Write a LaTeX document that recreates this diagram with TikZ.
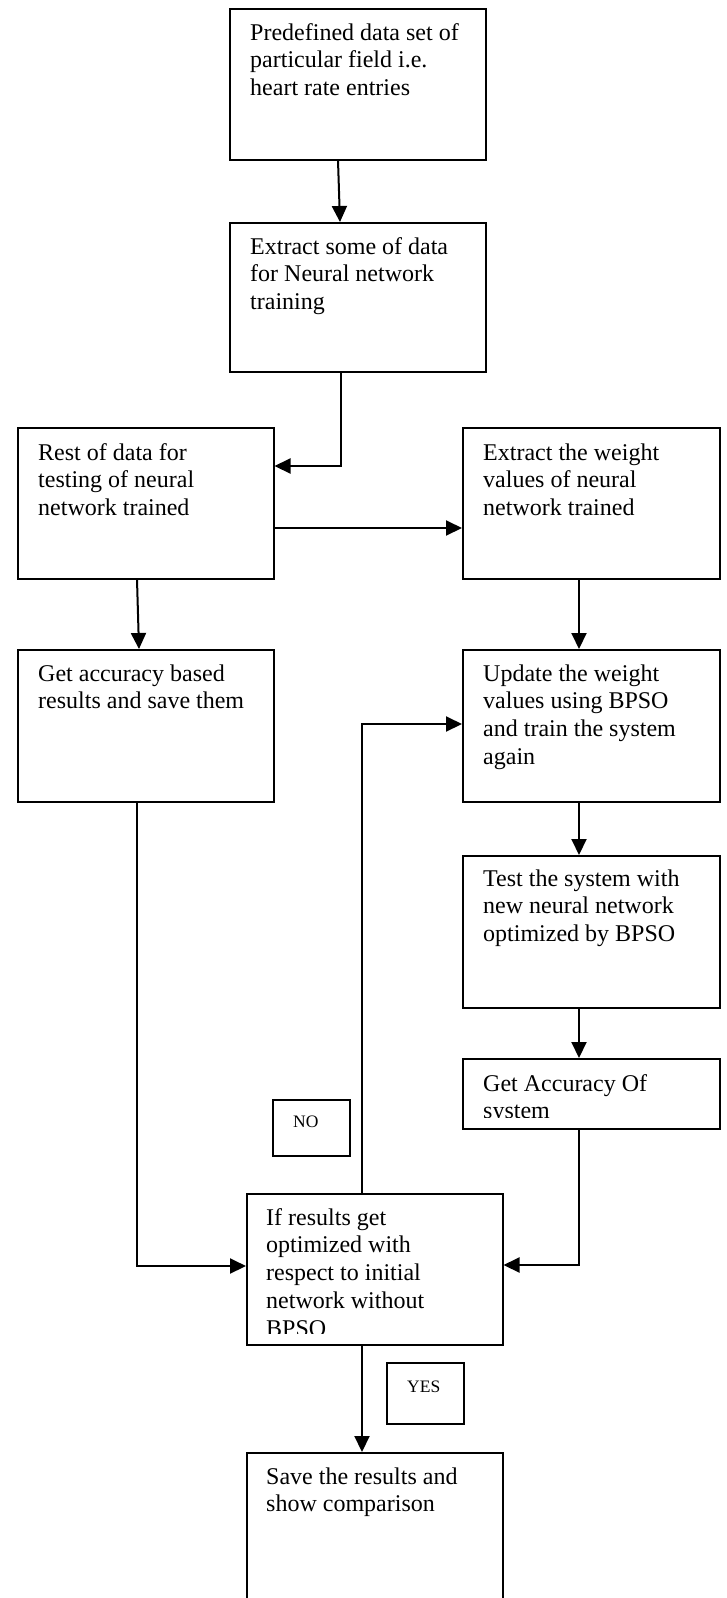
\documentclass[tikz,border=0pt]{standalone}
\usepackage{fontspec}
\setmainfont{Liberation Serif}
\usetikzlibrary{arrows.meta}

% multi-line box text, aligned on the baseline of its first line
\newcommand{\boxlines}[1]{\parbox[t]{250pt}{\raggedright #1}}

\begin{document}
\begin{tikzpicture}[x=1pt, y=-1pt,
  box/.style={draw, line width=1.5pt, inner sep=0pt, anchor=north west},
  txt/.style={anchor=base west, inner sep=0pt, font=\fontsize{24}{27.8}\selectfont},
  tag/.style={anchor=base west, inner sep=0pt, font=\fontsize{17.5}{20}\selectfont},
  arr/.style={line width=2pt, -{Triangle[length=16pt,width=15pt]}}]

\fill[white] (0,0) rectangle (726,1598);
\useasboundingbox (0,0) rectangle (726,1598);

% process boxes
\node[box, minimum width=256pt, minimum height=151pt] (b1)     at (229,8)    {};
\node[box, minimum width=256pt, minimum height=149pt] (b2)     at (229,222)  {};
\node[box, minimum width=256pt, minimum height=151pt] (rest)   at (17,427)   {};
\node[box, minimum width=257pt, minimum height=151pt] (weight) at (462,427)  {};
\node[box, minimum width=256pt, minimum height=152pt] (acc)    at (17,649)   {};
\node[box, minimum width=257pt, minimum height=152pt] (upd)    at (462,649)  {};
\node[box, minimum width=257pt, minimum height=152pt] (test)   at (462,855)  {};
\node[box, minimum width=257pt, minimum height=70pt]  (accof)  at (462,1058) {};
\node[box, minimum width=256pt, minimum height=151pt] (cond)   at (246,1193) {};
\node[box, minimum width=256pt, minimum height=200pt] (save)   at (246,1452) {};
\node[box, minimum width=77pt,  minimum height=56pt]  (no)     at (272,1099) {};
\node[box, minimum width=77pt,  minimum height=61pt]  (yes)    at (386,1362) {};

% box texts
\node[txt] at ([shift={(21pt,-32pt)}]b1.north west)
  {\boxlines{Predefined data set of\\particular field i.e.\\heart rate entries}};
\node[txt] at ([shift={(21pt,-32pt)}]b2.north west)
  {\boxlines{Extract some of data\\for Neural network\\training}};
\node[txt] at ([shift={(21pt,-33pt)}]rest.north west)
  {\boxlines{Rest of data for\\testing of neural\\network trained}};
\node[txt] at ([shift={(21pt,-33pt)}]weight.north west)
  {\boxlines{Extract the weight\\values of neural\\network trained}};
\node[txt] at ([shift={(21pt,-32pt)}]acc.north west)
  {\boxlines{Get accuracy based\\results and save them}};
\node[txt] at ([shift={(21pt,-32pt)}]upd.north west)
  {\boxlines{Update the weight\\values using BPSO\\and train the system\\again}};
\node[txt] at ([shift={(21pt,-31pt)}]test.north west)
  {\boxlines{Test the system with\\new neural network\\optimized by BPSO}};
\begin{scope}
  \clip (accof.north west) rectangle ([yshift=12pt]accof.south east);
  \node[txt] at ([shift={(21pt,-33pt)}]accof.north west)
    {\boxlines{Get Accuracy Of\\system}};
\end{scope}
\begin{scope}
  \clip (cond.north west) rectangle ([yshift=12pt]cond.south east);
  \node[txt] at ([shift={(20pt,-32pt)}]cond.north west)
    {\boxlines{If results get\\optimized with\\respect to initial\\network without\\BPSO}};
\end{scope}
\node[txt] at ([shift={(20pt,-32pt)}]save.north west)
  {\boxlines{Save the results and\\show comparison}};
\node[tag] at ([shift={(21pt,-28pt)}]no.north west) {NO};
\node[tag] at ([shift={(21pt,-30pt)}]yes.north west) {YES};

% connectors
\draw[arr] ([xshift=109pt]b1.south west) -- ([xshift=111pt]b2.north west);
\draw[arr] ([xshift=112pt]b2.south west) |- ([yshift=-39pt]rest.north east);
\draw[arr] ([yshift=-101pt]rest.north east) -- ([yshift=-101pt]weight.north west);
\draw[arr] ([xshift=120pt]rest.south west) -- ([xshift=122pt]acc.north west);
\draw[arr] ([xshift=117pt]weight.south west) -- ([xshift=117pt]upd.north west);
\draw[arr] ([xshift=117pt]upd.south west) -- ([xshift=117pt]test.north west);
\draw[arr] ([xshift=117pt]test.south west) -- ([xshift=117pt]accof.north west);
\draw[arr] ([xshift=117pt]accof.south west) |- ([yshift=-72pt]cond.north east);
\draw[arr] ([xshift=120pt]acc.south west) |- ([yshift=-73pt]cond.north west);
\draw[arr] ([xshift=116pt]cond.north west) |- ([yshift=-75pt]upd.north west);
\draw[arr] ([xshift=116pt]cond.south west) -- ([xshift=116pt]save.north west);
\end{tikzpicture}
\end{document}
